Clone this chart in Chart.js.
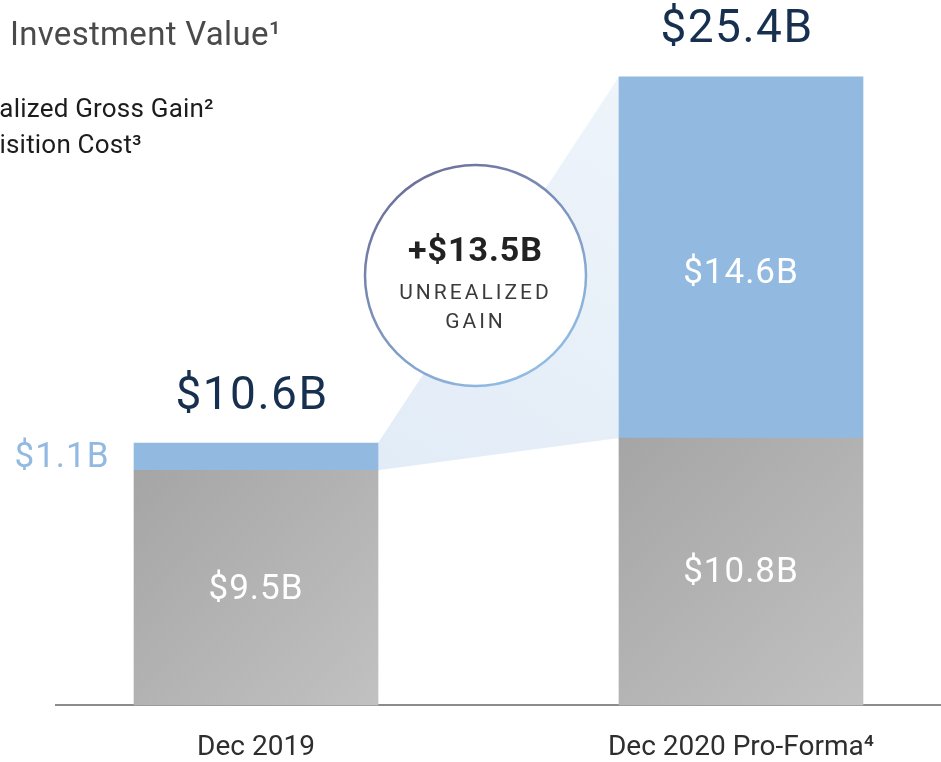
<!DOCTYPE html>
<html>
<head>
<meta charset="utf-8">
<script src="https://cdn.jsdelivr.net/npm/chart.js@4.4.1/dist/chart.umd.min.js"></script>
<style>
  html, body { margin: 0; padding: 0; background: #fff; overflow: hidden; }
  #wrap { position: relative; width: 941px; height: 762px; }
</style>
</head>
<body>
<div id="wrap"><canvas id="investChart"></canvas></div>
<script>
var categories = ['Dec 2019', 'Dec 2020 Pro-Forma\u2074'];
var acquisitionCost = [9.5, 10.8];
var unrealizedGain = [1.1, 14.6];
var seriesNames = ['Acquisition Cost\u00b3', 'Unrealized Gross Gain\u00b2'];
var chartTitle = 'Investment Value\u00b9';
var gainCaption = ['UNREALIZED', 'GAIN'];

var FONT = 'Roboto, "Noto Sans", sans-serif';
var NAVY = '#17304f';
var BLUE = '#92bae0';
var BAR_W = 244;

function fmt(v) {
  return '$' + v.toFixed(1) + 'B';
}

function toPoints(arr) {
  return arr.map(function(v, i) { return { x: i, y: v }; });
}

// diagonal grey shading, darker at the top-left of each bar
function grayFill(ctx) {
  var chart = ctx.chart;
  if (!chart.chartArea || ctx.type !== 'data') return '#b3b3b3';
  var xs = chart.scales.x, ys = chart.scales.y;
  var cx = xs.getPixelForValue(ctx.dataIndex);
  var top = ys.getPixelForValue(ctx.raw.y);
  var base = ys.getPixelForValue(0);
  var g = chart.ctx.createLinearGradient(cx - BAR_W / 2, top, cx + BAR_W / 2, base);
  g.addColorStop(0, '#a5a5a5');
  g.addColorStop(1, '#c1c1c1');
  return g;
}

function text(c, str, x, y, font, color, align, spacing) {
  c.font = font;
  c.fillStyle = color;
  c.textAlign = align || 'center';
  c.textBaseline = 'middle';
  c.letterSpacing = (spacing || 0) + 'px';
  c.fillText(str, x, y);
  c.letterSpacing = '0px';
}

var decor = {
  id: 'decor',
  beforeDatasetsDraw: function(chart) {
    // shaded wedge joining the two gain segments
    var c = chart.ctx;
    var a = chart.getDatasetMeta(1).data[0];
    var b = chart.getDatasetMeta(1).data[1];
    var ax = a.x + a.width / 2, bx = b.x - b.width / 2;
    c.save();
    var g = c.createLinearGradient(ax, a.base, bx, b.y);
    g.addColorStop(0, '#e2ecf7');
    g.addColorStop(1, '#eef4fa');
    c.fillStyle = g;
    c.beginPath();
    c.moveTo(ax, a.y);
    c.lineTo(bx, b.y);
    c.lineTo(bx, b.base);
    c.lineTo(ax, a.base);
    c.closePath();
    c.fill();
    c.restore();
  },
  afterDatasetsDraw: function(chart) {
    var c = chart.ctx;
    var cost = chart.getDatasetMeta(0).data;
    var gain = chart.getDatasetMeta(1).data;
    c.save();

    // values inside the bars
    cost.forEach(function(el, i) {
      text(c, fmt(acquisitionCost[i]), el.x, (el.y + el.base) / 2 + 2, '35px ' + FONT, '#ffffff', 'center', 1);
    });
    gain.forEach(function(el, i) {
      var h = el.base - el.y;
      if (h > 60) {
        text(c, fmt(unrealizedGain[i]), el.x, (el.y + el.base) / 2 + 17, '35px ' + FONT, '#ffffff', 'center', 1);
      } else {
        text(c, fmt(unrealizedGain[i]), el.x - el.width / 2 - 72, (el.y + el.base) / 2 + 2, '35px ' + FONT, BLUE, 'center', 1);
      }
      // totals above each bar
      var total = acquisitionCost[i] + unrealizedGain[i];
      text(c, fmt(total), el.x - 4, el.y - 46, '46px ' + FONT, NAVY, 'center', 1.5);
    });

    // circle call-out with the gain between the two dates
    var cx = 475.5, cy = 275.5, r = 110.5;
    var ring = c.createLinearGradient(cx - r, cy - r, cx + r * 0.3, cy + r);
    ring.addColorStop(0, '#67648e');
    ring.addColorStop(1, '#90bce4');
    c.beginPath();
    c.arc(cx, cy, r, 0, Math.PI * 2);
    c.fillStyle = '#ffffff';
    c.fill();
    c.lineWidth = 2.5;
    c.strokeStyle = ring;
    c.stroke();
    var diff = unrealizedGain[1] - unrealizedGain[0];
    text(c, '+' + fmt(diff), cx, cy - 23, 'bold 34px ' + FONT, '#222222', 'center', 1);
    text(c, gainCaption[0], cx, cy + 18, '21px ' + FONT, '#3b3b3b', 'center', 3);
    text(c, gainCaption[1], cx, cy + 47, '21px ' + FONT, '#3b3b3b', 'center', 3);

    // heading and legend text
    text(c, chartTitle, 10, 37, '33px ' + FONT, '#4a4a4a', 'left', 0.3);
    text(c, seriesNames[1], -55, 110, '26px ' + FONT, '#1c1c1c', 'left', 0.2);
    text(c, seriesNames[0], -61, 146, '26px ' + FONT, '#1c1c1c', 'left', 0.2);
    c.restore();
  }
};

new Chart(document.getElementById('investChart'), {
  type: 'bar',
  data: {
    datasets: [{
      label: seriesNames[0],
      data: toPoints(acquisitionCost),
      backgroundColor: grayFill,
      barThickness: BAR_W
    }, {
      label: seriesNames[1],
      data: toPoints(unrealizedGain),
      backgroundColor: BLUE,
      barThickness: BAR_W
    }]
  },
  options: {
    responsive: true,
    maintainAspectRatio: false,
    animation: false,
    layout: { padding: { left: 56, right: 0, top: 0, bottom: -29 } },
    plugins: {
      legend: { display: false },
      tooltip: { enabled: false }
    },
    scales: {
      x: {
        type: 'linear',
        stacked: true,
        offset: false,
        min: -0.4124,
        max: 1.4124,
        z: 1,
        grid: { display: false, drawTicks: false },
        border: { display: true, color: '#8c8c8c', width: 2 },
        afterBuildTicks: function(scale) {
          scale.ticks = categories.map(function(c, i) { return { value: i }; });
        },
        ticks: {
          padding: 26,
          color: '#2e2e2e',
          font: { family: FONT, size: 28 },
          callback: function(v) { return categories[v] || ''; }
        }
      },
      y: {
        stacked: true,
        display: false,
        min: 0,
        max: 28.5
      }
    }
  },
  plugins: [decor]
});
</script>
</body>
</html>
